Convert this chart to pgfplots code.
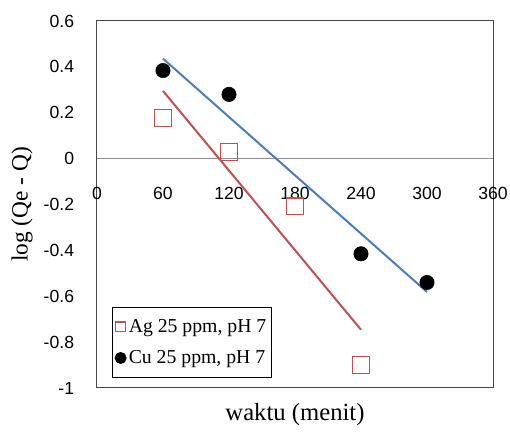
\documentclass[border=0pt]{standalone}
\usepackage{fontspec}
\setmainfont{Liberation Serif}
\setsansfont{Liberation Sans}
\usepackage{pgfplots}
\usepackage{pgfplotstable}
\pgfplotsset{compat=1.18}

\definecolor{agred}{HTML}{C0504D}
\definecolor{cublue}{HTML}{4A7EBB}

% smaller markers inside the legend
\pgfplotsset{
  agleg/.style={legend image code/.code={\draw[##1, draw=agred, mark size=3.6pt, line width=1pt] plot coordinates {(0.22cm,0cm)};}},
  culeg/.style={legend image code/.code={\draw[##1, mark size=4.1pt] plot coordinates {(0.22cm,0cm)};}},
}

% log (Qe - Q) against contact time
\pgfplotstableread{
x y
60 0.178
120 0.028
180 -0.208
240 -0.900
}\agdata
\pgfplotstableread{
x y
60 0.384
120 0.280
240 -0.415
300 -0.540
}\cudata

\begin{document}
\begin{tikzpicture}
\begin{axis}[
  scale only axis,
  width=297pt, height=275.25pt,
  xmin=0, xmax=360, ymin=-1, ymax=0.6,
  xtick={0,60,120,180,240,300,360},
  xticklabels={0,60,120,180,240,300,360},
  ytick={-1,-0.8,-0.6,-0.4,-0.2,0,0.2,0.4,0.6},
  yticklabels={-1,-0.8,-0.6,-0.4,-0.2,0,0.2,0.4,0.6},
  major tick length=0pt,
  tick label style={font=\sffamily\fontsize{13.2}{15}\selectfont},
  yticklabel style={anchor=east, inner sep=0pt, xshift=-17pt},
  xticklabel style={anchor=center, inner sep=0pt, yshift=146.25pt},
  axis line style={draw=black!72, line width=0.75pt},
  extra y ticks={0}, extra y tick labels={},
  extra y tick style={grid=major, major grid style={draw=black!45, line width=0.9pt}},
  xlabel={waktu (menit)},
  ylabel={log (Qe - Q)},
  xlabel style={font=\fontsize{18.5}{21}\selectfont, at={(axis description cs:0.5,-0.0736)}, anchor=center},
  ylabel style={font=\fontsize{17.5}{20}\selectfont, at={(axis description cs:-0.1894,0.5)}, anchor=center},
  legend style={at={(axis description cs:0,0)}, anchor=south west,
    xshift=11.25pt, yshift=7.5pt, draw=black, line width=0.75pt,
    font=\fontsize{14.8}{17}\selectfont, inner xsep=2pt, inner ysep=7pt,
    row sep=8pt},
  legend cell align=left,
]
% fitted lines
\addplot[agred, line width=1.5pt, no marks, forget plot]
  table[y={create col/linear regression={y=y}}] {\agdata};
\addplot[cublue, line width=1.5pt, no marks, forget plot]
  table[y={create col/linear regression={y=y}}] {\cudata};
% measured points
\addplot[only marks, mark=square, mark size=6.25pt, draw=agred, line width=0.9pt, agleg]
  table {\agdata};
\addlegendentry{Ag 25 ppm, pH 7}
\addplot[only marks, mark=*, mark size=5.4pt, draw=black, fill=black, culeg]
  table {\cudata};
\addlegendentry{Cu 25 ppm, pH 7}
\end{axis}
\pgfresetboundingbox
\path ([xshift=-72.75pt,yshift=-37.5pt]current axis.south west)
  rectangle ([xshift=12.75pt,yshift=15.75pt]current axis.north east);
\end{tikzpicture}
\end{document}
